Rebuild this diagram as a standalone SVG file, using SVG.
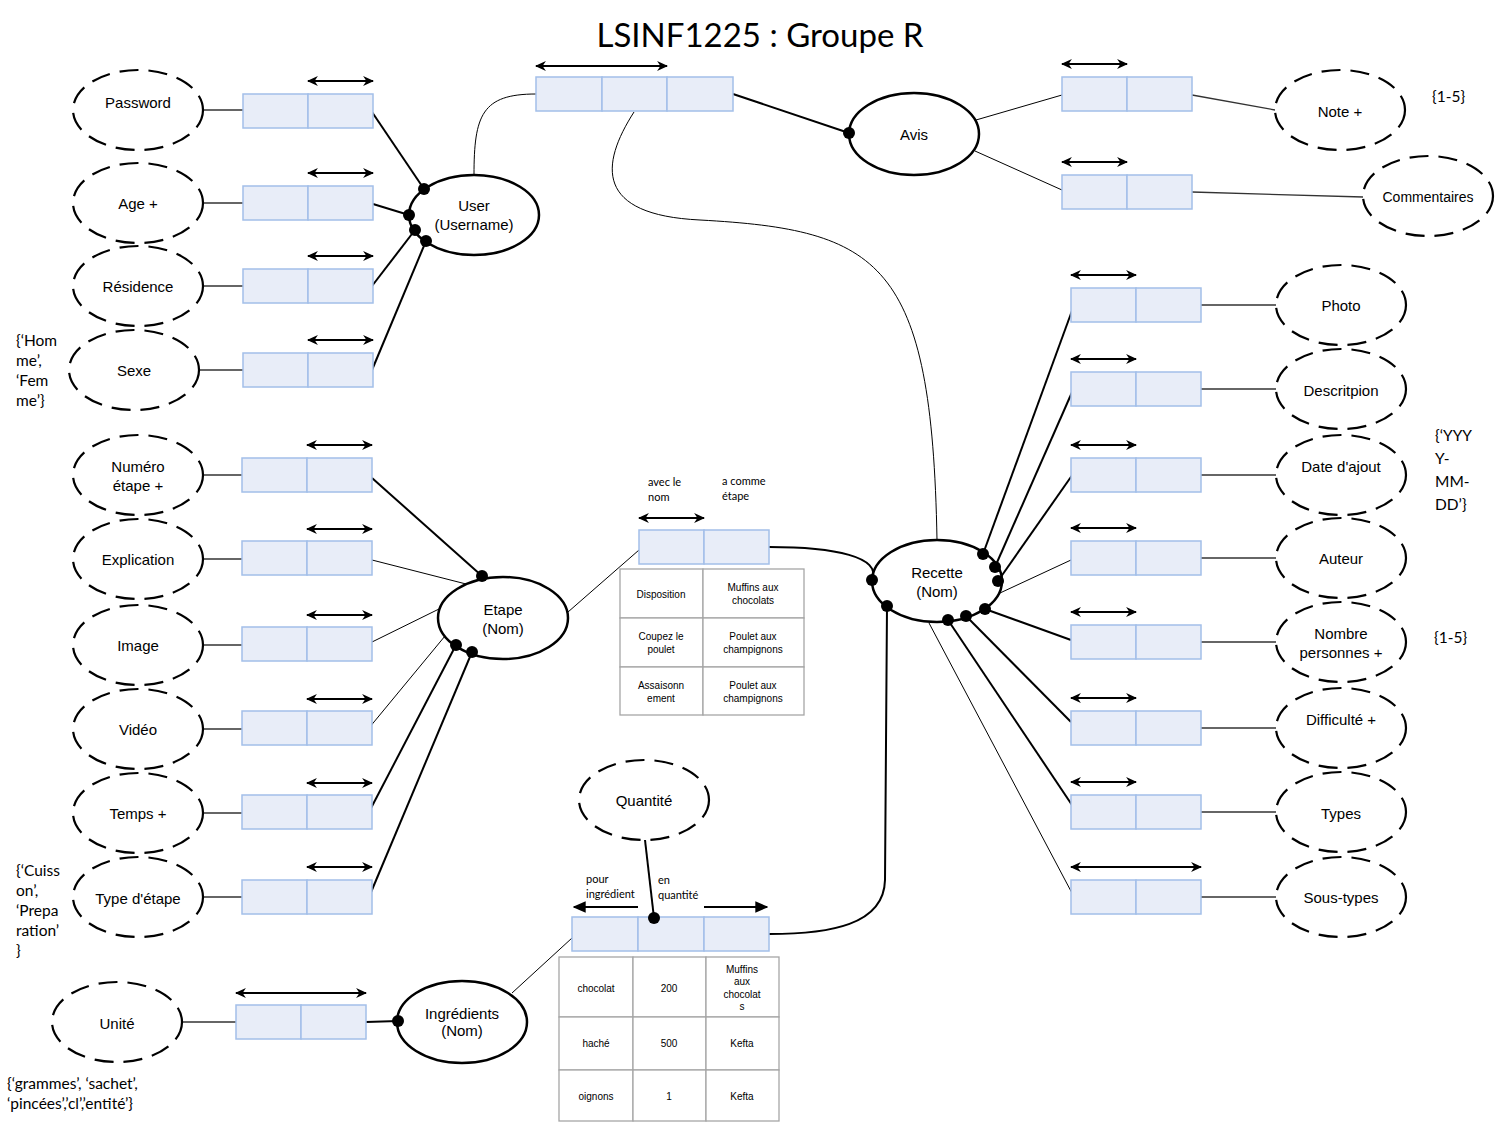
<svg xmlns="http://www.w3.org/2000/svg" width="1500" height="1125" viewBox="0 0 1500 1125">
<style>
.att{fill:#fff;stroke:#000;stroke-width:2.2;stroke-dasharray:19 10}
.ent{fill:#fff;stroke:#000;stroke-width:2.5}
.cell{fill:#e8edf8;stroke:#a3bfe9;stroke-width:1.5}
.lbl{font-family:"Liberation Sans",Arial,sans-serif;font-size:15px;text-anchor:middle;fill:#000}
.ann{font-family:Lato,"Liberation Sans",sans-serif;font-size:15.5px;fill:#000}
.sm{font-family:Lato,"Liberation Sans",sans-serif;font-size:11px;fill:#000}
.tb{font-family:"Liberation Sans",Arial,sans-serif;font-size:10px;text-anchor:middle;fill:#000}
.tcell{fill:#fff;stroke:#a6a6a6;stroke-width:1.3}
.thin{fill:none;stroke:#000;stroke-width:1}
.thick{fill:none;stroke:#000;stroke-width:2}
.link{fill:none;stroke:#333;stroke-width:1.3}
.dbl{stroke:#000;stroke-width:2;marker-start:url(#ah);marker-end:url(#ah)}
.dot{fill:#000}
</style>
<defs>
<marker id="ah" viewBox="0 0 10 10" refX="9" refY="5" markerWidth="11" markerHeight="11" markerUnits="userSpaceOnUse" orient="auto-start-reverse"><path d="M0,0.5 L10,5 L0,9.5 L3,5 z" fill="#000"/></marker>
<marker id="ab" viewBox="0 0 10 10" refX="9" refY="5" markerWidth="13" markerHeight="13" markerUnits="userSpaceOnUse" orient="auto"><path d="M0,0.5 L10,5 L0,9.5 z" fill="#000"/></marker>
</defs>
<rect width="1500" height="1125" fill="#fff"/>
<text x="760" y="47" style="font-family:Lato,'Liberation Sans',sans-serif;font-size:33px;text-anchor:middle">LSINF1225 : Groupe R</text>

<!-- connectors -->
<g id="connectors">
<line class="link" x1="204" y1="110" x2="243" y2="110"/>
<line class="link" x1="204" y1="203" x2="243" y2="203"/>
<line class="link" x1="204" y1="286" x2="243" y2="286"/>
<line class="link" x1="200" y1="370" x2="243" y2="370"/>
<line class="thick" x1="372" y1="112" x2="424" y2="189"/>
<line class="thick" x1="373" y1="204" x2="409" y2="215"/>
<line class="thick" x1="372" y1="286" x2="415" y2="230"/>
<line class="thick" x1="372" y1="370" x2="426" y2="241"/>
<path class="thin" d="M474,175 C474,115 482,94 536,94"/>
<line class="thick" x1="733" y1="94" x2="849" y2="133"/>
<path class="thin" d="M634,112 C600,165 595,215 700,220 C880,230 932,260 937,540"/>
<line class="thin" x1="976" y1="120" x2="1062" y2="95"/>
<line class="thin" x1="975" y1="151" x2="1062" y2="190"/>
<line class="link" x1="1192" y1="95" x2="1275" y2="110"/>
<line class="link" x1="1192" y1="192" x2="1363" y2="197"/>
<line class="link" x1="1201" y1="305" x2="1276" y2="305"/>
<line class="link" x1="1201" y1="389" x2="1276" y2="389"/>
<line class="link" x1="1201" y1="475" x2="1276" y2="475"/>
<line class="link" x1="1201" y1="558" x2="1276" y2="558"/>
<line class="link" x1="1201" y1="642" x2="1276" y2="642"/>
<line class="link" x1="1201" y1="728" x2="1276" y2="728"/>
<line class="link" x1="1201" y1="812" x2="1276" y2="812"/>
<line class="link" x1="1201" y1="897" x2="1276" y2="897"/>
<line class="thick" x1="983" y1="554" x2="1073" y2="308"/>
<line class="thick" x1="995" y1="567" x2="1073" y2="390"/>
<line class="thick" x1="998" y1="581" x2="1073" y2="474"/>
<line class="thin" x1="1000" y1="593" x2="1071" y2="560"/>
<line class="thick" x1="985" y1="609" x2="1071" y2="640"/>
<line class="thick" x1="966" y1="616" x2="1071" y2="722"/>
<line class="thick" x1="948" y1="620" x2="1076" y2="811"/>
<line class="thin" x1="929" y1="623" x2="1073" y2="895"/>
<line class="thin" x1="568" y1="612" x2="639" y2="550"/>
<path class="thick" d="M887,606 L885,880 C884,925 830,934 769,934"/>
<line class="link" x1="204" y1="475" x2="242" y2="475"/>
<line class="link" x1="204" y1="559" x2="242" y2="559"/>
<line class="link" x1="204" y1="645" x2="242" y2="645"/>
<line class="link" x1="204" y1="729" x2="242" y2="729"/>
<line class="link" x1="204" y1="813" x2="242" y2="813"/>
<line class="link" x1="204" y1="897" x2="242" y2="897"/>
<line class="thick" x1="372" y1="478" x2="482" y2="576"/>
<line class="thin" x1="372" y1="560" x2="470" y2="585"/>
<line class="thin" x1="372" y1="642" x2="441" y2="608"/>
<line class="thin" x1="369" y1="728" x2="445" y2="636"/>
<line class="thick" x1="369" y1="812" x2="456" y2="645"/>
<line class="thick" x1="369" y1="897" x2="472" y2="652"/>
<line class="thick" x1="645" y1="840" x2="654" y2="918"/>
<line class="thin" x1="512" y1="993" x2="572" y2="938"/>
<line class="link" x1="182" y1="1022" x2="236" y2="1022"/>
<line class="thick" x1="366" y1="1022" x2="398" y2="1021"/>
</g>

<!-- entities -->
<g id="user"><ellipse class="ent" cx="474" cy="215" rx="65" ry="40"/><text class="lbl" x="474" y="211">User</text><text class="lbl" x="474" y="230">(Username)</text></g>
<g id="avis"><ellipse class="ent" cx="914" cy="134" rx="65" ry="41"/><text class="lbl" x="914" y="140">Avis</text></g>
<g id="recette"><ellipse class="ent" cx="937" cy="581" rx="65" ry="41"/><text class="lbl" x="937" y="578">Recette</text><text class="lbl" x="937" y="597">(Nom)</text></g>
<g id="etape"><ellipse class="ent" cx="503" cy="618" rx="65" ry="41"/><text class="lbl" x="503" y="615">Etape</text><text class="lbl" x="503" y="634">(Nom)</text></g>
<g id="ingredients"><ellipse class="ent" cx="462" cy="1022" rx="65" ry="41"/><text class="lbl" x="462" y="1019">Ingrédients</text><text class="lbl" x="462" y="1036">(Nom)</text></g>

<!-- curve crossing into Recette, drawn over the ellipse -->
<g id="connector-etape-recette"><path class="thick" d="M769,547 C835,547 882,557 872,580"/></g>

<!-- attributes -->
<g id="password"><ellipse class="att" cx="138" cy="110" rx="65" ry="40"/><text class="lbl" x="138" y="108">Password</text></g>
<g id="age"><ellipse class="att" cx="138" cy="203" rx="65" ry="40"/><text class="lbl" x="138" y="209">Age +</text></g>
<g id="residence"><ellipse class="att" cx="138" cy="286" rx="65" ry="40"/><text class="lbl" x="138" y="292">Résidence</text></g>
<g id="sexe"><ellipse class="att" cx="134" cy="370" rx="65" ry="40"/><text class="lbl" x="134" y="376">Sexe</text></g>
<g id="numero"><ellipse class="att" cx="138" cy="475" rx="65" ry="40"/><text class="lbl" x="138" y="472">Numéro</text><text class="lbl" x="138" y="491">étape +</text></g>
<g id="explication"><ellipse class="att" cx="138" cy="559" rx="65" ry="40"/><text class="lbl" x="138" y="565">Explication</text></g>
<g id="image"><ellipse class="att" cx="138" cy="645" rx="65" ry="40"/><text class="lbl" x="138" y="651">Image</text></g>
<g id="video"><ellipse class="att" cx="138" cy="729" rx="65" ry="40"/><text class="lbl" x="138" y="735">Vidéo</text></g>
<g id="temps"><ellipse class="att" cx="138" cy="813" rx="65" ry="40"/><text class="lbl" x="138" y="819">Temps +</text></g>
<g id="typeetape"><ellipse class="att" cx="138" cy="897" rx="65" ry="40"/><text class="lbl" x="138" y="904">Type d'étape</text></g>
<g id="unite"><ellipse class="att" cx="117" cy="1022" rx="65" ry="40"/><text class="lbl" x="117" y="1029">Unité</text></g>
<g id="quantite"><ellipse class="att" cx="644" cy="800" rx="65" ry="40"/><text class="lbl" x="644" y="806">Quantité</text></g>
<g id="note"><ellipse class="att" cx="1340" cy="110" rx="65" ry="40"/><text class="lbl" x="1340" y="117">Note +</text></g>
<g id="commentaires"><ellipse class="att" cx="1428" cy="196" rx="65" ry="40"/><text class="lbl" x="1428" y="202" style="font-size:14px">Commentaires</text></g>
<g id="photo"><ellipse class="att" cx="1341" cy="305" rx="65" ry="40"/><text class="lbl" x="1341" y="311">Photo</text></g>
<g id="description"><ellipse class="att" cx="1341" cy="389" rx="65" ry="40"/><text class="lbl" x="1341" y="396">Descritpion</text></g>
<g id="date"><ellipse class="att" cx="1341" cy="475" rx="65" ry="40"/><text class="lbl" x="1341" y="472">Date d'ajout</text></g>
<g id="auteur"><ellipse class="att" cx="1341" cy="558" rx="65" ry="40"/><text class="lbl" x="1341" y="564">Auteur</text></g>
<g id="nombre"><ellipse class="att" cx="1341" cy="642" rx="65" ry="40"/><text class="lbl" x="1341" y="639">Nombre</text><text class="lbl" x="1341" y="658">personnes +</text></g>
<g id="difficulte"><ellipse class="att" cx="1341" cy="728" rx="65" ry="40"/><text class="lbl" x="1341" y="725">Difficulté +</text></g>
<g id="types"><ellipse class="att" cx="1341" cy="812" rx="65" ry="40"/><text class="lbl" x="1341" y="819">Types</text></g>
<g id="soustypes"><ellipse class="att" cx="1341" cy="897" rx="65" ry="40"/><text class="lbl" x="1341" y="903">Sous-types</text></g>

<!-- role boxes -->
<g id="r-password"><rect class="cell" x="243" y="94" width="65" height="34"/><rect class="cell" x="308" y="94" width="65" height="34"/><line class="dbl" x1="308" y1="81" x2="373" y2="81"/></g>
<g id="r-age"><rect class="cell" x="243" y="186" width="65" height="34"/><rect class="cell" x="308" y="186" width="65" height="34"/><line class="dbl" x1="308" y1="173" x2="373" y2="173"/></g>
<g id="r-residence"><rect class="cell" x="243" y="269" width="65" height="34"/><rect class="cell" x="308" y="269" width="65" height="34"/><line class="dbl" x1="308" y1="256" x2="373" y2="256"/></g>
<g id="r-sexe"><rect class="cell" x="243" y="353" width="65" height="34"/><rect class="cell" x="308" y="353" width="65" height="34"/><line class="dbl" x1="308" y1="340" x2="373" y2="340"/></g>

<g id="r-numero"><rect class="cell" x="242" y="458" width="65" height="34"/><rect class="cell" x="307" y="458" width="65" height="34"/><line class="dbl" x1="307" y1="445" x2="372" y2="445"/></g>
<g id="r-explication"><rect class="cell" x="242" y="541" width="65" height="34"/><rect class="cell" x="307" y="541" width="65" height="34"/><line class="dbl" x1="307" y1="529" x2="372" y2="529"/></g>
<g id="r-image"><rect class="cell" x="242" y="627" width="65" height="34"/><rect class="cell" x="307" y="627" width="65" height="34"/><line class="dbl" x1="307" y1="615" x2="372" y2="615"/></g>
<g id="r-video"><rect class="cell" x="242" y="711" width="65" height="34"/><rect class="cell" x="307" y="711" width="65" height="34"/><line class="dbl" x1="307" y1="699" x2="372" y2="699"/></g>
<g id="r-temps"><rect class="cell" x="242" y="795" width="65" height="34"/><rect class="cell" x="307" y="795" width="65" height="34"/><line class="dbl" x1="307" y1="783" x2="372" y2="783"/></g>
<g id="r-typeetape"><rect class="cell" x="242" y="880" width="65" height="34"/><rect class="cell" x="307" y="880" width="65" height="34"/><line class="dbl" x1="307" y1="867" x2="372" y2="867"/></g>

<g id="r-unite"><rect class="cell" x="236" y="1005" width="65" height="34"/><rect class="cell" x="301" y="1005" width="65" height="34"/><line class="dbl" x1="236" y1="993" x2="366" y2="993"/></g>

<g id="r-avis"><rect class="cell" x="536" y="77" width="66" height="34"/><rect class="cell" x="602" y="77" width="65" height="34"/><rect class="cell" x="667" y="77" width="66" height="34"/><line class="dbl" x1="536" y1="66" x2="667" y2="66"/></g>
<g id="r-note"><rect class="cell" x="1062" y="77" width="65" height="34"/><rect class="cell" x="1127" y="77" width="65" height="34"/><line class="dbl" x1="1062" y1="64" x2="1127" y2="64"/></g>
<g id="r-commentaires"><rect class="cell" x="1062" y="175" width="65" height="34"/><rect class="cell" x="1127" y="175" width="65" height="34"/><line class="dbl" x1="1062" y1="162" x2="1127" y2="162"/></g>

<g id="r-photo"><rect class="cell" x="1071" y="288" width="65" height="34"/><rect class="cell" x="1136" y="288" width="65" height="34"/><line class="dbl" x1="1071" y1="275" x2="1136" y2="275"/></g>
<g id="r-description"><rect class="cell" x="1071" y="372" width="65" height="34"/><rect class="cell" x="1136" y="372" width="65" height="34"/><line class="dbl" x1="1071" y1="359" x2="1136" y2="359"/></g>
<g id="r-date"><rect class="cell" x="1071" y="458" width="65" height="34"/><rect class="cell" x="1136" y="458" width="65" height="34"/><line class="dbl" x1="1071" y1="445" x2="1136" y2="445"/></g>
<g id="r-auteur"><rect class="cell" x="1071" y="541" width="65" height="34"/><rect class="cell" x="1136" y="541" width="65" height="34"/><line class="dbl" x1="1071" y1="528" x2="1136" y2="528"/></g>
<g id="r-nombre"><rect class="cell" x="1071" y="625" width="65" height="34"/><rect class="cell" x="1136" y="625" width="65" height="34"/><line class="dbl" x1="1071" y1="612" x2="1136" y2="612"/></g>
<g id="r-difficulte"><rect class="cell" x="1071" y="711" width="65" height="34"/><rect class="cell" x="1136" y="711" width="65" height="34"/><line class="dbl" x1="1071" y1="698" x2="1136" y2="698"/></g>
<g id="r-types"><rect class="cell" x="1071" y="795" width="65" height="34"/><rect class="cell" x="1136" y="795" width="65" height="34"/><line class="dbl" x1="1071" y1="782" x2="1136" y2="782"/></g>
<g id="r-soustypes"><rect class="cell" x="1071" y="880" width="65" height="34"/><rect class="cell" x="1136" y="880" width="65" height="34"/><line class="dbl" x1="1071" y1="867" x2="1201" y2="867"/></g>

<g id="r-etape">
<rect class="cell" x="639" y="530" width="65" height="34"/><rect class="cell" x="704" y="530" width="65" height="34"/>
<line class="dbl" x1="639" y1="518" x2="704" y2="518"/>
<text class="sm" x="648" y="486">avec le</text><text class="sm" x="648" y="501">nom</text>
<text class="sm" x="722" y="485">a comme</text><text class="sm" x="722" y="500">étape</text>
</g>
<g id="t-etape">
<rect class="tcell" x="620" y="569" width="83" height="49"/><rect class="tcell" x="703" y="569" width="101" height="49"/>
<rect class="tcell" x="620" y="618" width="83" height="49"/><rect class="tcell" x="703" y="618" width="101" height="49"/>
<rect class="tcell" x="620" y="667" width="83" height="48"/><rect class="tcell" x="703" y="667" width="101" height="48"/>
<text class="tb" x="661" y="598">Disposition</text>
<text class="tb" x="753" y="591">Muffins aux</text><text class="tb" x="753" y="604">chocolats</text>
<text class="tb" x="661" y="640">Coupez le</text><text class="tb" x="661" y="653">poulet</text>
<text class="tb" x="753" y="640">Poulet aux</text><text class="tb" x="753" y="653">champignons</text>
<text class="tb" x="661" y="689">Assaisonn</text><text class="tb" x="661" y="702">ement</text>
<text class="tb" x="753" y="689">Poulet aux</text><text class="tb" x="753" y="702">champignons</text>
</g>

<g id="r-quantite">
<rect class="cell" x="572" y="917" width="66" height="34"/><rect class="cell" x="638" y="917" width="66" height="34"/><rect class="cell" x="704" y="917" width="65" height="34"/>
<line x1="638" y1="907" x2="574" y2="907" stroke="#000" stroke-width="2" marker-end="url(#ab)"/>
<line x1="704" y1="907" x2="767" y2="907" stroke="#000" stroke-width="2" marker-end="url(#ab)"/>
<text class="sm" x="586" y="883">pour</text><text class="sm" x="586" y="898">ingrédient</text>
<text class="sm" x="658" y="884">en</text><text class="sm" x="658" y="899">quantité</text>
</g>
<g id="t-quantite">
<rect class="tcell" x="559" y="957" width="74" height="60"/><rect class="tcell" x="633" y="957" width="73" height="60"/><rect class="tcell" x="706" y="957" width="73" height="60"/>
<rect class="tcell" x="559" y="1017" width="74" height="53"/><rect class="tcell" x="633" y="1017" width="73" height="53"/><rect class="tcell" x="706" y="1017" width="73" height="53"/>
<rect class="tcell" x="559" y="1070" width="74" height="51"/><rect class="tcell" x="633" y="1070" width="73" height="51"/><rect class="tcell" x="706" y="1070" width="73" height="51"/>
<text class="tb" x="596" y="992">chocolat</text><text class="tb" x="669" y="992">200</text>
<text class="tb" x="742" y="973">Muffins</text><text class="tb" x="742" y="985">aux</text><text class="tb" x="742" y="998">chocolat</text><text class="tb" x="742" y="1010">s</text>
<text class="tb" x="596" y="1047">haché</text><text class="tb" x="669" y="1047">500</text><text class="tb" x="742" y="1047">Kefta</text>
<text class="tb" x="596" y="1100">oignons</text><text class="tb" x="669" y="1100">1</text><text class="tb" x="742" y="1100">Kefta</text>
</g>

<!-- connector end dots, over everything -->
<g id="connector-dots">
<circle class="dot" cx="424" cy="189" r="6"/>
<circle class="dot" cx="409" cy="215" r="6"/>
<circle class="dot" cx="415" cy="230" r="6"/>
<circle class="dot" cx="426" cy="241" r="6"/>
<circle class="dot" cx="849" cy="133" r="6"/>
<circle class="dot" cx="983" cy="554" r="6"/>
<circle class="dot" cx="995" cy="567" r="6"/>
<circle class="dot" cx="998" cy="581" r="6"/>
<circle class="dot" cx="985" cy="609" r="6"/>
<circle class="dot" cx="966" cy="616" r="6"/>
<circle class="dot" cx="948" cy="620" r="6"/>
<circle class="dot" cx="872" cy="580" r="6"/>
<circle class="dot" cx="887" cy="606" r="6"/>
<circle class="dot" cx="482" cy="576" r="6"/>
<circle class="dot" cx="456" cy="645" r="6"/>
<circle class="dot" cx="472" cy="652" r="6"/>
<circle class="dot" cx="654" cy="918" r="6"/>
<circle class="dot" cx="398" cy="1021" r="6"/>
</g>

<!-- annotations -->
<g id="annotations">
<text class="ann" x="1432" y="102">{1-5}</text>
<text class="ann" x="1434" y="643">{1-5}</text>
<text class="ann" x="1435" y="441">{‘YYY</text><text class="ann" x="1435" y="464">Y-</text><text class="ann" x="1435" y="487">MM-</text><text class="ann" x="1435" y="510">DD’}</text>
<text class="ann" x="16" y="346">{‘Hom</text><text class="ann" x="16" y="366">me’,</text><text class="ann" x="16" y="386">‘Fem</text><text class="ann" x="16" y="406">me’}</text>
<text class="ann" x="16" y="876">{‘Cuiss</text><text class="ann" x="16" y="896">on’,</text><text class="ann" x="16" y="916">‘Prepa</text><text class="ann" x="16" y="936">ration’</text><text class="ann" x="16" y="956">}</text>
<text class="ann" x="7" y="1089">{‘grammes’, ‘sachet’,</text><text class="ann" x="7" y="1109">‘pincées’,’cl’,’entité’}</text>
</g>
</svg>
